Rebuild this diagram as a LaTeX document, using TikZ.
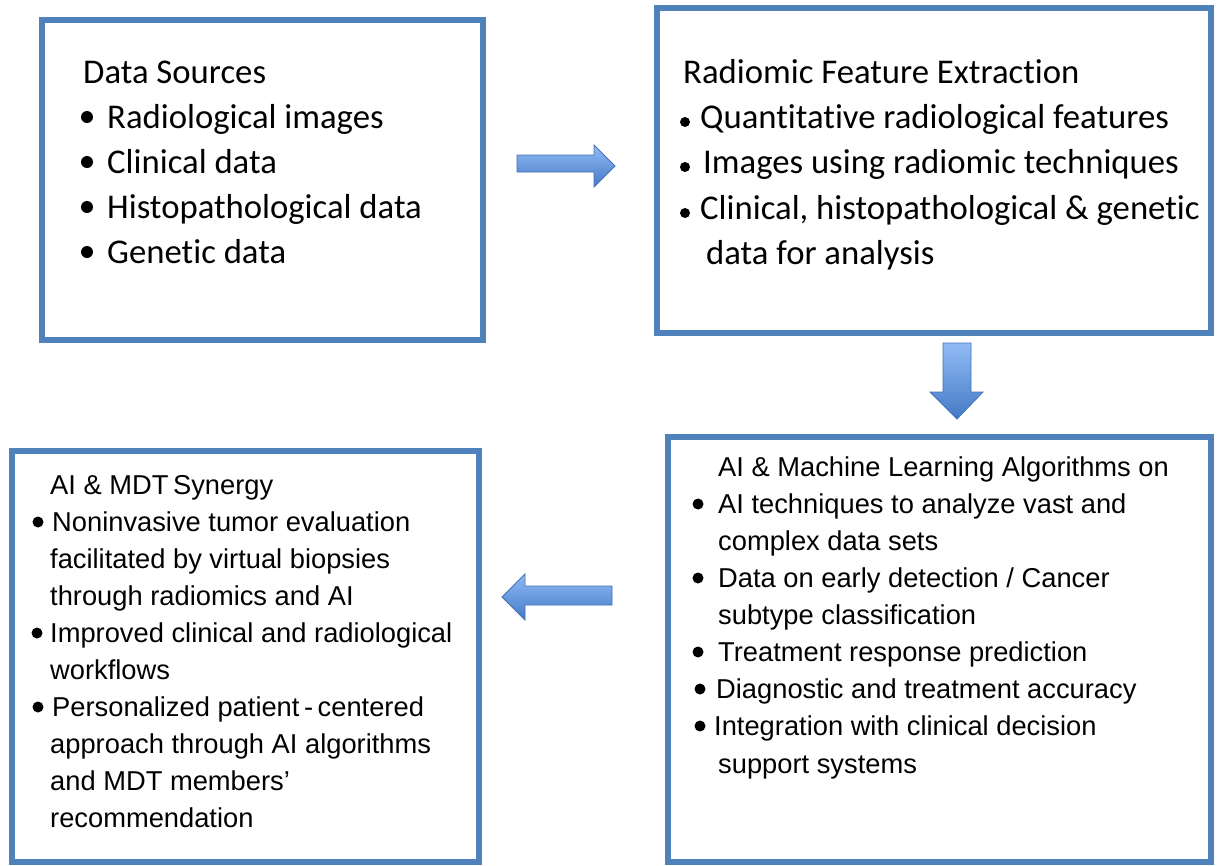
\documentclass[tikz,border=0pt]{standalone}
\usepackage{fontspec}
\setmainfont{Liberation Sans}
\newfontfamily\calib[Ligatures=NoCommon]{Carlito}
\definecolor{boxblue}{RGB}{79,129,189}
\definecolor{arrtop}{RGB}{145,187,245}
\definecolor{arrbot}{RGB}{68,122,198}
\definecolor{arredge}{RGB}{66,112,180}
\begin{document}
\begin{tikzpicture}[x=1pt,y=-1pt,
  box/.style={draw=boxblue, line width=5.5pt, inner sep=0pt, rectangle},
  tA/.style={anchor=base west, inner sep=0pt, font=\calib\fontsize{34.7}{40}\selectfont},
  tB/.style={anchor=base west, inner sep=0pt, font=\fontsize{27.3}{32}\selectfont},
  bulA/.style={circle, fill=black, inner sep=0pt, minimum size=12pt},
  bulS/.style={circle, fill=black, inner sep=0pt, minimum size=10pt},
  bulB/.style={circle, fill=black, inner sep=0pt, minimum size=11pt},
  blockarrow/.style={top color=arrtop, bottom color=arrbot, draw=arredge, line width=0.8pt, line join=miter}]
\useasboundingbox (0,0) rectangle (1221,865);

% boxes
\node[box, minimum width=441pt, minimum height=320pt] (b1) at (262.5,180) {};
\node[box, minimum width=554pt, minimum height=325pt] (b2) at (934,170.5) {};
\node[box, minimum width=467pt, minimum height=411pt] (b3) at (245.5,656.5) {};
\node[box, minimum width=543pt, minimum height=425pt] (b4) at (939.5,649.5) {};

% box 1
\node[tA] (a0) at (83,83) {Data Sources};
\node[bulA] (ab1) at (87,117) {};
\node[tA] (a1) at (107,128) {Radiological images};
\node[bulA] (ab2) at (87,162) {};
\node[tA] (a2) at (107,173) {Clinical data};
\node[bulA] (ab3) at (87,207) {};
\node[tA] (a3) at (107,218) {Histopathological data};
\node[bulA] (ab4) at (87,252) {};
\node[tA] (a4) at (107,263) {Genetic data};

% box 2
\node[tA] (c0) at (683,83) {Radiomic Feature Extraction};
\node[bulS] (cb1) at (685,122) {};
\node[tA] (c1) at (700,128) {Quantitative radiological features};
\node[bulS] (cb2) at (685,167) {};
\node[tA] (c2) at (703,173) {Images using radiomic techniques};
\node[bulS] (cb3) at (685,213) {};
\node[tA] (c3) at (700,219) {Clinical, histopathological \& genetic};
\node[tA] (c4) at (706,264) {data for analysis};

% box 4
\node[tB] (d0) at (718,476) {AI \& Machine Learning Algorithms on};
\node[bulB] (db1) at (698,504) {};
\node[tB] (d1) at (718,513) {AI techniques to analyze vast and};
\node[tB] (d2) at (718,550) {complex data sets};
\node[bulB] (db2) at (698,578) {};
\node[tB] (d3) at (718,587) {Data on early detection / Cancer};
\node[tB] (d4) at (718,624) {subtype classification};
\node[bulB] (db3) at (698,652) {};
\node[tB] (d5) at (718,661) {Treatment response prediction};
\node[bulB] (db4) at (700,689) {};
\node[tB] (d6) at (716,698) {Diagnostic and treatment accuracy};
\node[bulB] (db5) at (700,726) {};
\node[tB] (d7) at (714,735) {Integration with clinical decision};
\node[tB] (d8) at (718,773) {support systems};

% box 3
\node[tB] (e0) at (50,494) {AI \& MDT\,Synergy};
\node[bulB] (eb1) at (38,522) {};
\node[tB] (e1) at (52,531) {Noninvasive tumor evaluation};
\node[tB] (e2) at (50,568) {facilitated by virtual biopsies};
\node[tB] (e3) at (50,605) {through radiomics and AI};
\node[bulB] (eb2) at (37,633) {};
\node[tB] (e4) at (50,642) {Improved clinical and radiological};
\node[tB] (e5) at (50,679) {workflows};
\node[bulB] (eb3) at (38,707) {};
\node[tB] (e6) at (52,716) {Personalized patient\,-\,centered};
\node[tB] (e7) at (50,753) {approach through AI algorithms};
\node[tB] (e8) at (50,790) {and MDT members’};
\node[tB] (e9) at (50,827) {recommendation};

% block arrows
\path[blockarrow] (517,155) -- (594,155) -- (594,145) -- (615,166) -- (594,187) -- (594,172) -- (517,172) -- cycle;
\path[blockarrow] (943,343) -- (971,343) -- (971,392) -- (983,392) -- (957,419) -- (930,392) -- (943,392) -- cycle;
\path[blockarrow] (612,586) -- (525,586) -- (525,574) -- (502,597) -- (525,620) -- (525,605) -- (612,605) -- cycle;
\end{tikzpicture}
\end{document}
